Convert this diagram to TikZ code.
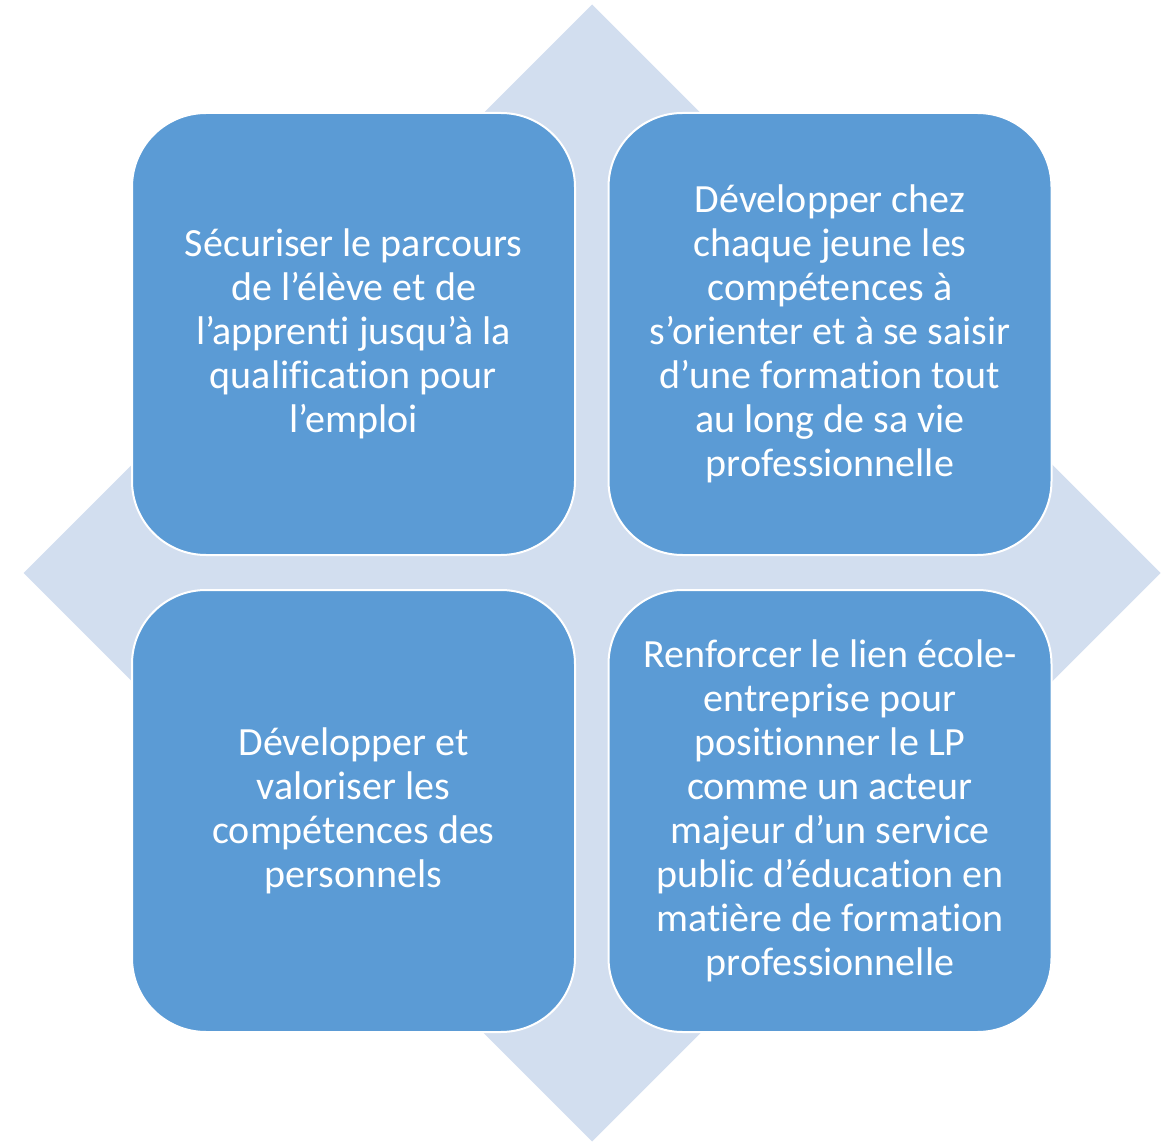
\documentclass[tikz,border=0pt]{standalone}
\usepackage{fontspec}
\setmainfont{Carlito}[Ligatures=CommonOff]
\definecolor{cor_caixa}{RGB}{91,155,213}
\definecolor{cor_losango}{RGB}{210,222,239}

\begin{document}
\begin{tikzpicture}[x=0.5pt,y=-0.5pt]
        \tikzset{
            caixa/.style={
                draw=white,
                fill=cor_caixa,
                line width=1pt,
                rounded corners=37pt,
                minimum width=221.5pt,
                minimum height=221pt,
                inner sep=0pt,
                align=center,
                text=white,
                font=\fontsize{20}{22}\selectfont
            }
        }
        \useasboundingbox (0,0) rectangle (1173,1144);

        %losango
        \fill[cor_losango] (592,4.5) -- (1160.5,573) -- (592,1141.5) -- (23.5,573) -- cycle;

        %1
        \node[caixa] (secur) at (353.5,334) {S\'ecuriser le parcours\\de l’\'el\`eve et de\\l’apprenti jusqu’\`a la\\qualification pour\\l’emploi};
        %2
        \node[caixa] (devjeune) at (830,334) {D\'evelopper chez\\chaque jeune les\\comp\'etences \`a\\s’orienter et \`a se saisir\\d’une formation tout\\au long de sa vie\\professionnelle};
        %3
        \node[caixa] (devpers) at (353.5,811) {D\'evelopper et\\valoriser les\\comp\'etences des\\personnels};
        %4
        \node[caixa] (renf) at (830,811) {Renforcer le lien \'ecole-\\entreprise pour\\positionner le LP\\comme un acteur\\majeur d’un service\\public d’\'education en\\mati\`ere de formation\\professionnelle};

    \end{tikzpicture}
\end{document}
